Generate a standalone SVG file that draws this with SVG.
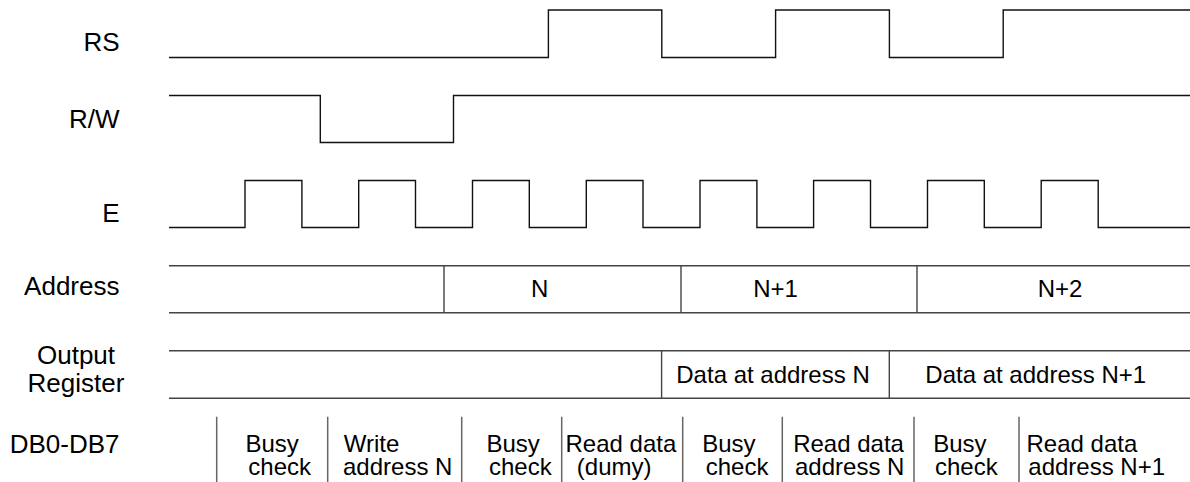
<svg xmlns="http://www.w3.org/2000/svg" width="1190" height="482" viewBox="0 0 1190 482">
<style>
.lbl{font-family:"Liberation Sans",Arial,sans-serif;font-size:26px;fill:#000;text-anchor:end}
.lblc{font-family:"Liberation Sans",Arial,sans-serif;font-size:26px;fill:#000;text-anchor:middle}
.t{font-family:"Liberation Sans",Arial,sans-serif;font-size:24px;fill:#000}
.tc{font-family:"Liberation Sans",Arial,sans-serif;font-size:24px;fill:#000;text-anchor:middle}
.sig{fill:none;stroke:#111;stroke-width:1.4}
.bus{fill:none;stroke:#444;stroke-width:1.4}
.div{fill:none;stroke:#666;stroke-width:1.5}
</style>
<rect width="1190" height="482" fill="#fff"/>
<g id="rs">
<text class="lbl" x="119.5" y="50.7">RS</text>
<path class="sig" d="M169,57.5 H548.4 V10 H661.8 V57.5 H775.6 V10 H889.4 V57.5 H1003.2 V10 H1190"/>
</g>
<g id="rw">
<text class="lbl" x="119.5" y="128.3">R/W</text>
<path class="sig" d="M169,95.5 H320.3 V142.5 H453.5 V95.5 H1190"/>
</g>
<g id="e">
<text class="lbl" x="119.5" y="221.7">E</text>
<path class="sig" d="M169,227.5 H245 V180.5 H301.9 V227.5 H358.7 V180.5 H415.5 V227.5 H472.5 V180.5 H529.3 V227.5 H586.3 V180.5 H643 V227.5 H700 V180.5 H756.9 V227.5 H813.6 V180.5 H870.5 V227.5 H927.5 V180.5 H984.3 V227.5 H1041.2 V180.5 H1098.2 V227.5 H1190"/>
</g>
<g id="address">
<text class="lbl" x="119.5" y="295">Address</text>
<path class="bus" d="M169,265.7 H1190 M169,312.7 H1190 M444,265.7 V312.7 M681,265.7 V312.7 M917,265.7 V312.7"/>
<text class="tc" x="539.6" y="297">N</text>
<text class="tc" x="775.6" y="297">N+1</text>
<text class="tc" x="1060" y="297">N+2</text>
</g>
<g id="output-register">
<text class="lblc" x="76" y="364">Output</text>
<text class="lblc" x="76" y="391.7">Register</text>
<path class="bus" d="M169,350.7 H1190 M169,398.3 H1190 M661.6,350.7 V398.3 M889.3,350.7 V398.3"/>
<text class="tc" x="773" y="383">Data at address N</text>
<text class="tc" x="1035.7" y="383">Data at address N+1</text>
</g>
<g id="db">
<text class="lbl" x="119.5" y="453.3">DB0-DB7</text>
<path class="div" d="M216.7,416.7 V482 M327.7,416.7 V482 M461.7,416.7 V482 M561.7,416.7 V482 M682.7,416.7 V482 M782.3,416.7 V482 M914,416.7 V482 M1019,416.7 V482"/>
<text class="t" x="245.5" y="451.5">Busy</text>
<text class="t" x="248.3" y="474.5">check</text>
<text class="t" x="343.8" y="451.5">Write</text>
<text class="t" x="343" y="474.5">address N</text>
<text class="t" x="486.5" y="451.5">Busy</text>
<text class="t" x="489" y="474.5">check</text>
<text class="t" x="565.5" y="451.5">Read data</text>
<text class="t" x="576.8" y="474.5">(dumy)</text>
<text class="t" x="702.2" y="451.5">Busy</text>
<text class="t" x="705.7" y="474.5">check</text>
<text class="t" x="793.2" y="451.5">Read data</text>
<text class="t" x="795" y="474.5">address N</text>
<text class="t" x="933.2" y="451.5">Busy</text>
<text class="t" x="935" y="474.5">check</text>
<text class="t" x="1026.5" y="451.5">Read data</text>
<text class="t" x="1028.3" y="474.5">address N+1</text>
</g>
<g id="connectors"></g>
</svg>
